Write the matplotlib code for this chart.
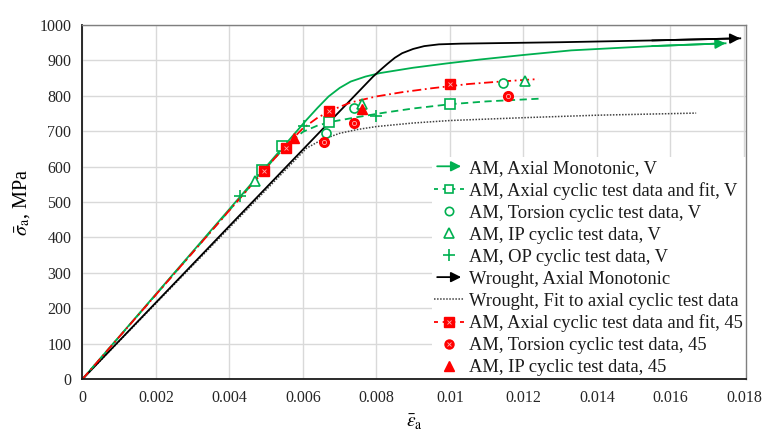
import matplotlib
matplotlib.use("Agg")
import matplotlib.pyplot as plt
from matplotlib.lines import Line2D
from matplotlib.patches import FancyArrowPatch
from matplotlib.legend_handler import HandlerBase, HandlerTuple

# ---- data ----
# monotonic curves
am_mono_x = [0, 0.0043, 0.0061, 0.0064, 0.0067, 0.0070, 0.0073, 0.0077, 0.0081, 0.0090,
             0.0099, 0.0108, 0.0120, 0.0133, 0.0155, 0.0175]
am_mono_y = [0, 516, 732, 766, 798, 822, 840, 854, 864, 879,
             891, 902, 915, 928, 940, 948]
wr_mono_x = [0, 0.0042, 0.0079, 0.0081, 0.0083, 0.0085, 0.0087, 0.0090, 0.0093, 0.0097,
             0.0103, 0.0130, 0.0155, 0.0179]
wr_mono_y = [0, 454, 853, 872, 890, 907, 920, 932, 940, 945, 947, 951, 956, 962]

# cyclic fits
wr_fit_x = [0, 0.0061, 0.0065, 0.0070, 0.0075, 0.0080, 0.0090, 0.0100, 0.0120, 0.0140, 0.0167]
wr_fit_y = [0, 652, 675, 694, 705, 713, 723, 730, 738, 745, 751]
am_v_fit_x = [0, 0.0052, 0.0056, 0.0060, 0.0064, 0.0068, 0.0075, 0.0082, 0.0090, 0.0100,
              0.0110, 0.0125]
am_v_fit_y = [0, 620, 664, 698, 716, 727, 740, 752, 764, 776, 784, 792]
am_45_fit_x = [0, 0.0055, 0.0060, 0.0064, 0.0068, 0.0073, 0.0080, 0.0087, 0.0095, 0.0105,
               0.0115, 0.0124]
am_45_fit_y = [0, 655, 708, 738, 760, 781, 798, 810, 821, 833, 841, 847]

# test data, V
ax_v_x = [0.0049, 0.00544, 0.00672, 0.01]
ax_v_y = [590, 658, 726, 777]
tor_v_x = [0.00662, 0.0074, 0.01144]
tor_v_y = [696, 764, 836]
ip_v_x = [0.00471, 0.0076, 0.01204]
ip_v_y = [559, 778, 842]
op_v_x = [0.0043, 0.00603, 0.008]
op_v_y = [516, 715, 743]

# test data, 45
ax_45_x = [0.00494, 0.00553, 0.00672, 0.01]
ax_45_y = [587, 653, 757, 833]
tor_45_x = [0.00658, 0.0074, 0.01158]
tor_45_y = [668, 724, 798]
ip_45_x = [0.00576, 0.00762]
ip_45_y = [682, 762]

GREEN = "#00b050"
RED = "#ff0000"
BLACK = "#000000"
GRID = "#d9d9d9"
PINK = "#ffb0b0"

plt.rcParams.update({
    "font.family": ["Liberation Serif", "DejaVu Serif"],
    "mathtext.fontset": "stix",
    "font.size": 11.5,
})


class ArrowLine(Line2D):
    pass


class HandlerArrow(HandlerBase):
    def create_artists(self, legend, orig_handle, xdescent, ydescent, width, height,
                       fontsize, trans):
        y = height / 2 - ydescent
        arr = FancyArrowPatch((-xdescent, y), (-xdescent + width, y),
                              arrowstyle="-|>,head_length=0.6,head_width=0.3",
                              mutation_scale=10, color=orig_handle.get_color(),
                              lw=orig_handle.get_linewidth(), transform=trans)
        return [arr]


fig = plt.figure(figsize=(7.7, 4.44), dpi=100)
ax = fig.add_axes([0.107, 0.146, 0.862, 0.798])

LW = 1.3
ARROW = "-|>,head_length=0.6,head_width=0.3"
# monotonic curves with arrow heads
ax.plot(am_mono_x, am_mono_y, color=GREEN, lw=LW, zorder=3)
ax.annotate("", xy=(am_mono_x[-1], am_mono_y[-1]), xytext=(am_mono_x[-2], am_mono_y[-2]),
            arrowprops=dict(arrowstyle=ARROW, mutation_scale=10, color=GREEN, lw=LW,
                            shrinkA=0, shrinkB=0), zorder=3)
ax.plot(wr_mono_x, wr_mono_y, color=BLACK, lw=LW, zorder=3)
ax.annotate("", xy=(wr_mono_x[-1], wr_mono_y[-1]), xytext=(wr_mono_x[-2], wr_mono_y[-2]),
            arrowprops=dict(arrowstyle=ARROW, mutation_scale=10, color=BLACK, lw=LW,
                            shrinkA=0, shrinkB=0), zorder=3)

# fits
ax.plot(wr_fit_x, wr_fit_y, color="#404040", lw=1.1, ls=(0, (1, 1)), zorder=2)
ax.plot(am_v_fit_x, am_v_fit_y, color=GREEN, lw=LW, ls=(0, (4, 2.5)), zorder=3)
ax.plot(am_45_fit_x, am_45_fit_y, color=RED, lw=LW, ls=(0, (5, 2, 1, 2)), zorder=3)

# markers
hollow = dict(ls="none", mfc="white", mec=GREEN, mew=1.2, zorder=4)
ax.plot(ax_v_x, ax_v_y, marker="s", ms=6.5, **hollow)
ax.plot(tor_v_x, tor_v_y, marker="o", ms=6.5, **hollow)
ax.plot(ip_v_x, ip_v_y, marker="^", ms=7, **hollow)
ax.plot(op_v_x, op_v_y, marker="+", ms=8, ls="none", mec=GREEN, mew=1.2, zorder=4)

filled = dict(ls="none", mfc=RED, mec=RED, mew=1, zorder=5)
ax.plot(ax_45_x, ax_45_y, marker="s", ms=7, **filled)
ax.plot(ax_45_x, ax_45_y, marker="x", ms=3, ls="none", mec=PINK, mew=0.6, zorder=6)
ax.plot(tor_45_x, tor_45_y, marker="o", ms=7, **filled)
ax.plot(tor_45_x, tor_45_y, marker="o", ms=3, ls="none", mfc="none", mec=PINK,
        mew=0.6, zorder=6)
ax.plot(ip_45_x, ip_45_y, marker="^", ms=7.5, **filled)

# axes styling
ax.set_xlim(0, 0.01806)
ax.set_ylim(0, 1000)
ax.set_xticks([0, 0.002, 0.004, 0.006, 0.008, 0.01, 0.012, 0.014, 0.016, 0.018])
ax.set_xticklabels(["0", "0.002", "0.004", "0.006", "0.008", "0.01", "0.012", "0.014",
                    "0.016", "0.018"])
ax.set_yticks(range(0, 1001, 100))
ax.grid(True, color=GRID, lw=1, zorder=0)
ax.set_axisbelow(True)
ax.tick_params(length=0, pad=8, labelsize=11.5, colors="#262626")
for side in ("left", "bottom"):
    ax.spines[side].set_color("#1a1a1a")
    ax.spines[side].set_linewidth(1.3)
for side in ("top", "right"):
    ax.spines[side].set_color("#7f7f7f")
    ax.spines[side].set_linewidth(1.0)
for s in ax.spines.values():
    s.set_zorder(7)

ax.set_xlabel(r"$\bar{\varepsilon}_{\mathrm{a}}$", fontsize=14, labelpad=5)
ax.set_ylabel(r"$\bar{\sigma}_{\mathrm{a}}$, MPa", fontsize=14.5, labelpad=5)

# legend
handles = [
    ArrowLine([], [], color=GREEN, lw=LW),
    Line2D([], [], color=GREEN, lw=LW, ls=(0, (2.2, 2.6)), marker="s", ms=6, mfc="white",
           mec=GREEN, mew=1.2),
    Line2D([], [], ls="none", marker="o", ms=6, mfc="white", mec=GREEN, mew=1.2),
    Line2D([], [], ls="none", marker="^", ms=6.5, mfc="white", mec=GREEN, mew=1.2),
    Line2D([], [], ls="none", marker="+", ms=8, mec=GREEN, mew=1.2),
    ArrowLine([], [], color=BLACK, lw=LW),
    Line2D([], [], color="#404040", lw=1.1, ls=(0, (1, 1))),
    (Line2D([], [], color=RED, lw=LW, ls=(0, (2.2, 2.6)), marker="s", ms=6.5, mfc=RED,
            mec=RED),
     Line2D([], [], marker="x", ms=3, ls="none", mec=PINK, mew=0.6)),
    (Line2D([], [], ls="none", marker="o", ms=6.5, mfc=RED, mec=RED),
     Line2D([], [], marker="x", ms=3, ls="none", mec=PINK, mew=0.6)),
    Line2D([], [], ls="none", marker="^", ms=7, mfc=RED, mec=RED),
]
labels = [
    "AM, Axial Monotonic, V",
    "AM, Axial cyclic test data and fit, V",
    "AM, Torsion cyclic test data, V",
    "AM, IP cyclic test data, V",
    "AM, OP cyclic test data, V",
    "Wrought, Axial Monotonic",
    "Wrought, Fit to axial cyclic test data",
    "AM, Axial cyclic test data and fit, 45",
    "AM, Torsion cyclic test data, 45",
    "AM, IP cyclic test data, 45",
]
leg = ax.legend(handles, labels, loc="lower right", bbox_to_anchor=(1, 0),
                borderaxespad=0, frameon=True, fancybox=False, framealpha=1,
                facecolor="white", edgecolor="none", fontsize=13.3,
                handlelength=1.6, handletextpad=0.3, labelspacing=0.27,
                borderpad=0.15,
                handler_map={ArrowLine: HandlerArrow(), tuple: HandlerTuple(ndivide=1)})
leg.set_zorder(6)
for t in leg.get_texts():
    t.set_color("#1a1a1a")

fig.savefig("out.png", dpi=100)
